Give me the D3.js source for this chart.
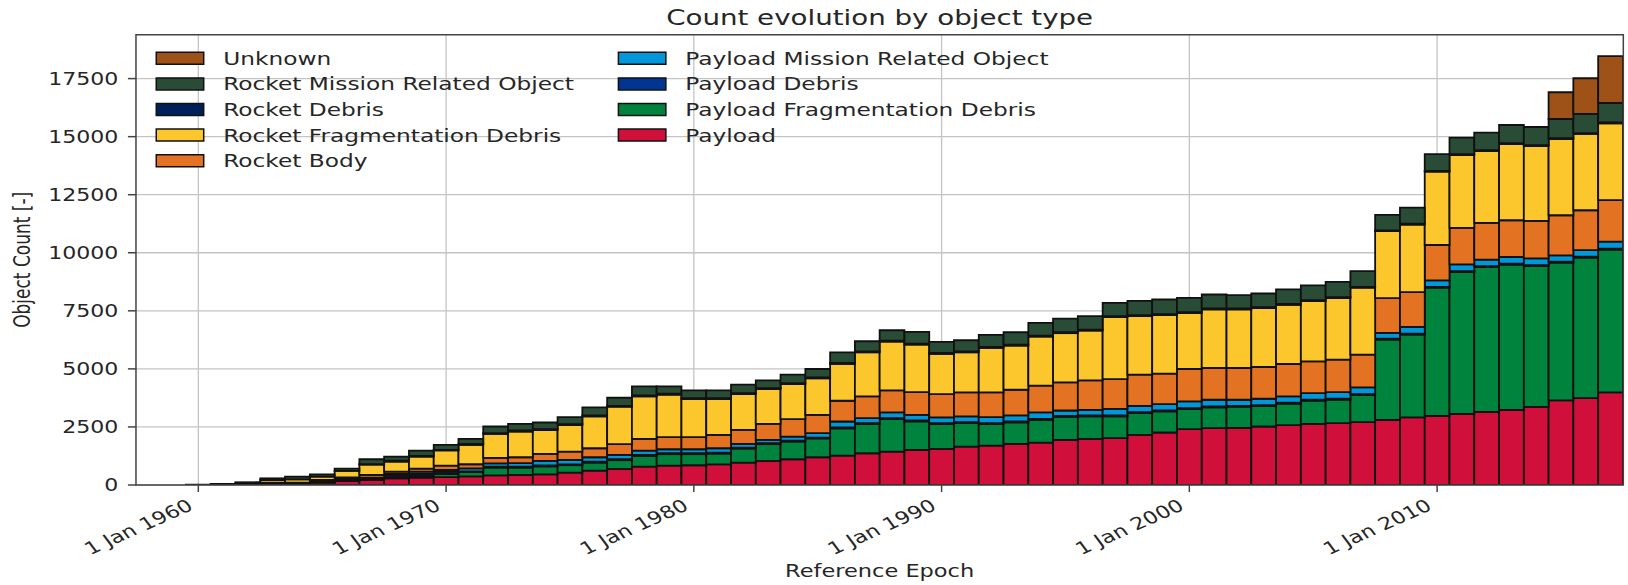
<!DOCTYPE html>
<html>
<head>
<meta charset="utf-8">
<script src="https://cdn.jsdelivr.net/npm/d3@7"></script>
<style>
  html, body { margin: 0; padding: 0; background: #fff; }
  svg { display: block; }
  text { font-family: "DejaVu Sans", sans-serif; fill: #262626; }
</style>
</head>
<body>
<div id="chart"></div>
<script>
// ---------------- data ----------------
const years = d3.range(1960, 2018);

const seriesNames = [
  "Payload", "Payload Fragmentation Debris", "Payload Debris", "Payload Mission Related Object",
  "Rocket Body", "Rocket Fragmentation Debris", "Rocket Debris", "Rocket Mission Related Object", "Unknown"
];
const seriesColors = ["#d0103a", "#00843d", "#003594", "#0098db", "#e37222", "#fcc72c", "#00205b", "#284c35", "#9e5217"];

const payload = [8,20,40,50,55,101,173,216,288,315,340,370,418,430,461,533,619,691,792,835,850,892,964,1036,1108,1195,1267,1367,1439,1511,1554,1655,1698,1770,1828,1943,1986,2015,2159,2260,2404,2447,2461,2519,2576,2634,2663,2706,2807,2908,2979,3066,3152,3238,3368,3641,3742,3987];
const payloadFragDebris = [0,0,0,0,0,20,40,50,43,76,134,190,330,320,340,320,350,377,463,492,477,464,608,723,766,809,1169,1256,1400,1227,1069,1011,925,925,982,996,968,939,939,909,866,895,910,881,925,996,1010,1169,3457,3572,5516,6106,6236,6251,6063,5934,6049,6149];
const payloadDebris = [0,0,0,0,0,0,40,30,80,90,100,30,44,42,48,39,39,40,40,40,40,40,40,40,40,40,40,40,40,40,40,40,40,40,40,40,40,40,40,40,40,40,40,40,40,40,40,40,40,40,40,40,40,40,40,40,40,40];
const payloadMissionObj = [0,0,0,10,10,20,20,20,64,95,73,130,143,150,187,188,187,187,188,173,173,187,158,144,173,187,259,216,244,245,245,245,259,259,273,230,244,288,273,274,288,288,259,273,273,288,288,288,245,288,274,288,273,288,288,274,287,302];
const rocketBody = [5,15,30,40,36,75,58,120,101,130,187,173,230,253,303,359,388,461,503,518,518,576,605,691,748,792,892,935,950,978,1007,1036,1065,1108,1152,1210,1267,1281,1339,1310,1397,1368,1368,1368,1396,1367,1396,1410,1497,1497,1525,1568,1583,1583,1612,1727,1713,1785];
const rocketFragDebris = [0,8,35,115,144,144,274,446,432,518,656,834,1035,1108,1025,1141,1371,1615,1831,1831,1644,1543,1543,1500,1515,1572,1586,1903,2105,2047,1730,1730,1917,1903,2119,2118,2148,2666,2522,2522,2406,2522,2522,2536,2551,2594,2652,2882,2882,2911,3156,3141,3098,3284,3227,3284,3285,3314];
const rocketDebris = [0,0,0,0,0,0,0,20,43,28,20,43,31,43,40,40,40,40,40,40,40,40,40,40,40,40,40,40,40,40,40,40,40,40,40,40,40,40,40,40,40,40,40,40,40,40,40,40,40,40,40,40,40,40,40,40,40,40];
const rocketMissionObj = [0,0,10,72,115,101,100,206,173,231,216,216,288,288,287,302,345,346,389,317,331,331,360,331,360,360,461,432,446,504,475,475,518,532,546,591,576,575,619,633,619,604,575,590,619,634,662,677,662,691,719,706,748,778,777,821,821,835];
const unknown = [0,0,0,0,0,0,0,0,0,0,0,0,0,0,0,0,0,0,0,0,0,0,0,0,0,0,0,0,0,0,0,0,0,0,0,0,0,0,0,0,0,0,0,0,0,0,0,0,0,0,0,0,0,0,0,1151,1539,2015];

const yTicks = [0, 2500, 5000, 7500, 10000, 12500, 15000, 17500];
const titleText = "Count evolution by object type";
const xLabel = "Reference Epoch";
const yLabel = "Object Count [-]";

// ---------------- build table ----------------
const seriesValues = [payload, payloadFragDebris, payloadDebris, payloadMissionObj, rocketBody, rocketFragDebris, rocketDebris, rocketMissionObj, unknown];
const table = years.map((yr, i) => {
  const row = { year: yr };
  seriesNames.forEach((n, j) => { row[n] = seriesValues[j][i]; });
  return row;
});

// ---------------- layout ----------------
const K = 1.3;                 // horizontal stretch of the figure
const WF = 1628, HF = 585;
const W = WF / K, H = HF;
const plot = { left: 104.6, right: 1248.7, top: 34.7, bottom: 485 };

const svg = d3.select("#chart").append("svg")
  .attr("width", WF).attr("height", HF)
  .attr("viewBox", `0 0 ${W} ${H}`)
  .attr("preserveAspectRatio", "none");

const x = d3.scaleTime()
  .domain([new Date(1957, 5, 26), new Date(2017, 6, 8)])
  .range([plot.left, plot.right]);

const stack = d3.stack().keys(seriesNames);
const stacked = stack(table);
const totMax = d3.max(table, d => d3.sum(seriesNames, n => d[n]));

const y = d3.scaleLinear()
  .domain([0, totMax * 1.05])
  .range([plot.bottom, plot.top]);

// clip
svg.append("defs").append("clipPath").attr("id", "clip")
  .append("rect").attr("x", plot.left).attr("y", plot.top)
  .attr("width", plot.right - plot.left).attr("height", plot.bottom - plot.top);

// grid
const xTickDates = d3.range(1960, 2011, 10).map(yr => new Date(yr, 0, 1));
const grid = svg.append("g").attr("class", "grid");
grid.selectAll("line.gx").data(xTickDates).join("line")
  .attr("x1", d => x(d)).attr("x2", d => x(d))
  .attr("y1", plot.top).attr("y2", plot.bottom)
  .attr("stroke", "#c4c4c4").attr("stroke-width", 1.3)
  .attr("vector-effect", "non-scaling-stroke");
grid.selectAll("line.gy").data(yTicks).join("line")
  .attr("x1", plot.left).attr("x2", plot.right)
  .attr("y1", d => y(d)).attr("y2", d => y(d))
  .attr("stroke", "#c4c4c4").attr("stroke-width", 1.3)
  .attr("vector-effect", "non-scaling-stroke");

// bars
const halfYear = 365.25 * 24 * 3600 * 1000 / 2;
const barLeft = yr => x(new Date(new Date(yr, 0, 1).getTime() - halfYear));
const barRight = yr => x(new Date(new Date(yr, 0, 1).getTime() + halfYear));

const bars = svg.append("g").attr("clip-path", "url(#clip)");
stacked.forEach((layer, j) => {
  bars.append("g")
    .attr("fill", seriesColors[j])
    .selectAll("rect").data(layer).join("rect")
    .attr("x", d => barLeft(d.data.year))
    .attr("width", d => barRight(d.data.year) - barLeft(d.data.year))
    .attr("y", d => y(d[1]))
    .attr("height", d => Math.max(0, y(d[0]) - y(d[1])))
    .attr("stroke", "#111")
    .attr("stroke-width", 1.8)
    .attr("vector-effect", "non-scaling-stroke");
});

// spines
const spine = svg.append("g");
spine.append("rect")
  .attr("x", plot.left).attr("y", plot.top)
  .attr("width", plot.right - plot.left).attr("height", plot.bottom - plot.top)
  .attr("fill", "none").attr("stroke", "#444").attr("stroke-width", 1.5)
  .attr("vector-effect", "non-scaling-stroke");

// y axis ticks
const yAx = svg.append("g");
yAx.selectAll("line").data(yTicks).join("line")
  .attr("x1", plot.left - 6.2).attr("x2", plot.left)
  .attr("y1", d => y(d)).attr("y2", d => y(d))
  .attr("stroke", "#444").attr("stroke-width", 1.5)
  .attr("vector-effect", "non-scaling-stroke");
yAx.selectAll("text").data(yTicks).join("text")
  .attr("x", plot.left - 13.5).attr("y", d => y(d))
  .attr("dy", "0.36em")
  .attr("text-anchor", "end")
  .attr("font-size", 17)
  .text(d => d3.format("d")(d));

// x axis ticks
const fmt = d3.timeFormat("%-d %b %Y");
const xAx = svg.append("g");
xAx.selectAll("line").data(xTickDates).join("line")
  .attr("x1", d => x(d)).attr("x2", d => x(d))
  .attr("y1", plot.bottom).attr("y2", plot.bottom + 7)
  .attr("stroke", "#444").attr("stroke-width", 1.5)
  .attr("vector-effect", "non-scaling-stroke");
xAx.selectAll("text").data(xTickDates).join("text")
  .attr("transform", d => `translate(${x(d) - 3},${plot.bottom + 24}) rotate(-30)`)
  .attr("text-anchor", "end")
  .attr("font-size", 17.3)
  .text(d => fmt(d));

// axis labels
svg.append("text")
  .attr("x", (plot.left + plot.right) / 2).attr("y", 577)
  .attr("text-anchor", "middle").attr("font-size", 17.3)
  .text(xLabel);
svg.append("text")
  .attr("transform", `translate(23,${(plot.top + plot.bottom) / 2}) rotate(-90)`)
  .attr("text-anchor", "middle").attr("font-size", 17)
  .text(yLabel);

// title
svg.append("text")
  .attr("x", (plot.left + plot.right) / 2).attr("y", 25.5)
  .attr("text-anchor", "middle").attr("font-size", 21.3)
  .text(titleText);

// legend (reversed order, 2 columns: 5 + 4)
const legendOrder = seriesNames.map((n, j) => ({ name: n, color: seriesColors[j] })).reverse();
const colX = [120.2, 475.7];
const rowY0 = 58.3, rowDY = 25.6;
const legend = svg.append("g");
legendOrder.forEach((item, i) => {
  const col = i < 5 ? 0 : 1;
  const row = i < 5 ? i : i - 5;
  const cy = rowY0 + row * rowDY;
  legend.append("rect")
    .attr("x", colX[col]).attr("y", cy - 6)
    .attr("width", 36.5).attr("height", 12)
    .attr("fill", item.color).attr("stroke", "#111").attr("stroke-width", 1.5)
    .attr("vector-effect", "non-scaling-stroke");
  legend.append("text")
    .attr("x", colX[col] + 51.5).attr("y", cy)
    .attr("dy", "0.36em")
    .attr("font-size", 17.9)
    .text(item.name);
});
</script>
</body>
</html>
